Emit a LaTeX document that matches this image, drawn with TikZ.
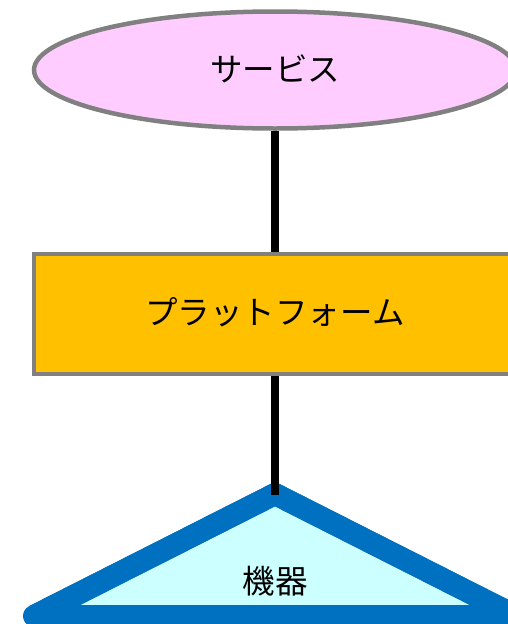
\documentclass[tikz,border=0pt]{standalone}
\usepackage{fontspec}
\newfontfamily\jpfont{Noto Sans CJK JP}
\usetikzlibrary{shapes.geometric}
\definecolor{svcfill}{HTML}{FFCCFF}
\definecolor{platfill}{HTML}{FFC000}
\definecolor{devfill}{HTML}{CCFFFF}
\definecolor{devline}{HTML}{0070C0}
\definecolor{edgegray}{HTML}{808080}
\tikzset{
  lbl/.style={font=\jpfont\fontsize{32.5}{36}\selectfont, text=black},
  svcbox/.style={ellipse, draw=edgegray, line width=4.5pt, fill=svcfill,
    minimum width=482pt, minimum height=117pt, inner sep=0pt, lbl},
  platbox/.style={rectangle, draw=edgegray, line width=4pt, fill=platfill,
    minimum width=482pt, minimum height=120pt, inner sep=0pt, lbl},
  devtri/.style={draw=devline, fill=devfill, line width=22pt, line join=round},
  link/.style={draw=black, line width=8pt}
}
\begin{document}
\begin{tikzpicture}[x=1pt,y=-1pt]
\useasboundingbox (0,0) rectangle (508,624);
\coordinate (apex) at (275,494);
\coordinate (bl) at (34,616);
\coordinate (br) at (516,616);
\path[devtri] (bl) -- (apex) -- (br) -- cycle;
\draw[draw=devline, line width=22pt, line join=miter] (bl) -- (apex) -- (br);
\node[lbl] (dev) at (275,581) {機器};
\node[svcbox] (svc) at (275,70) {\raisebox{3pt}{サービス}};
\node[platbox] (plat) at (275,313.5) {\raisebox{6pt}{プラットフォーム}};
\draw[link] (svc.south) -- (plat.north);
\draw[link] (plat.south) -- ([yshift=-1pt]apex);
\end{tikzpicture}
\end{document}
